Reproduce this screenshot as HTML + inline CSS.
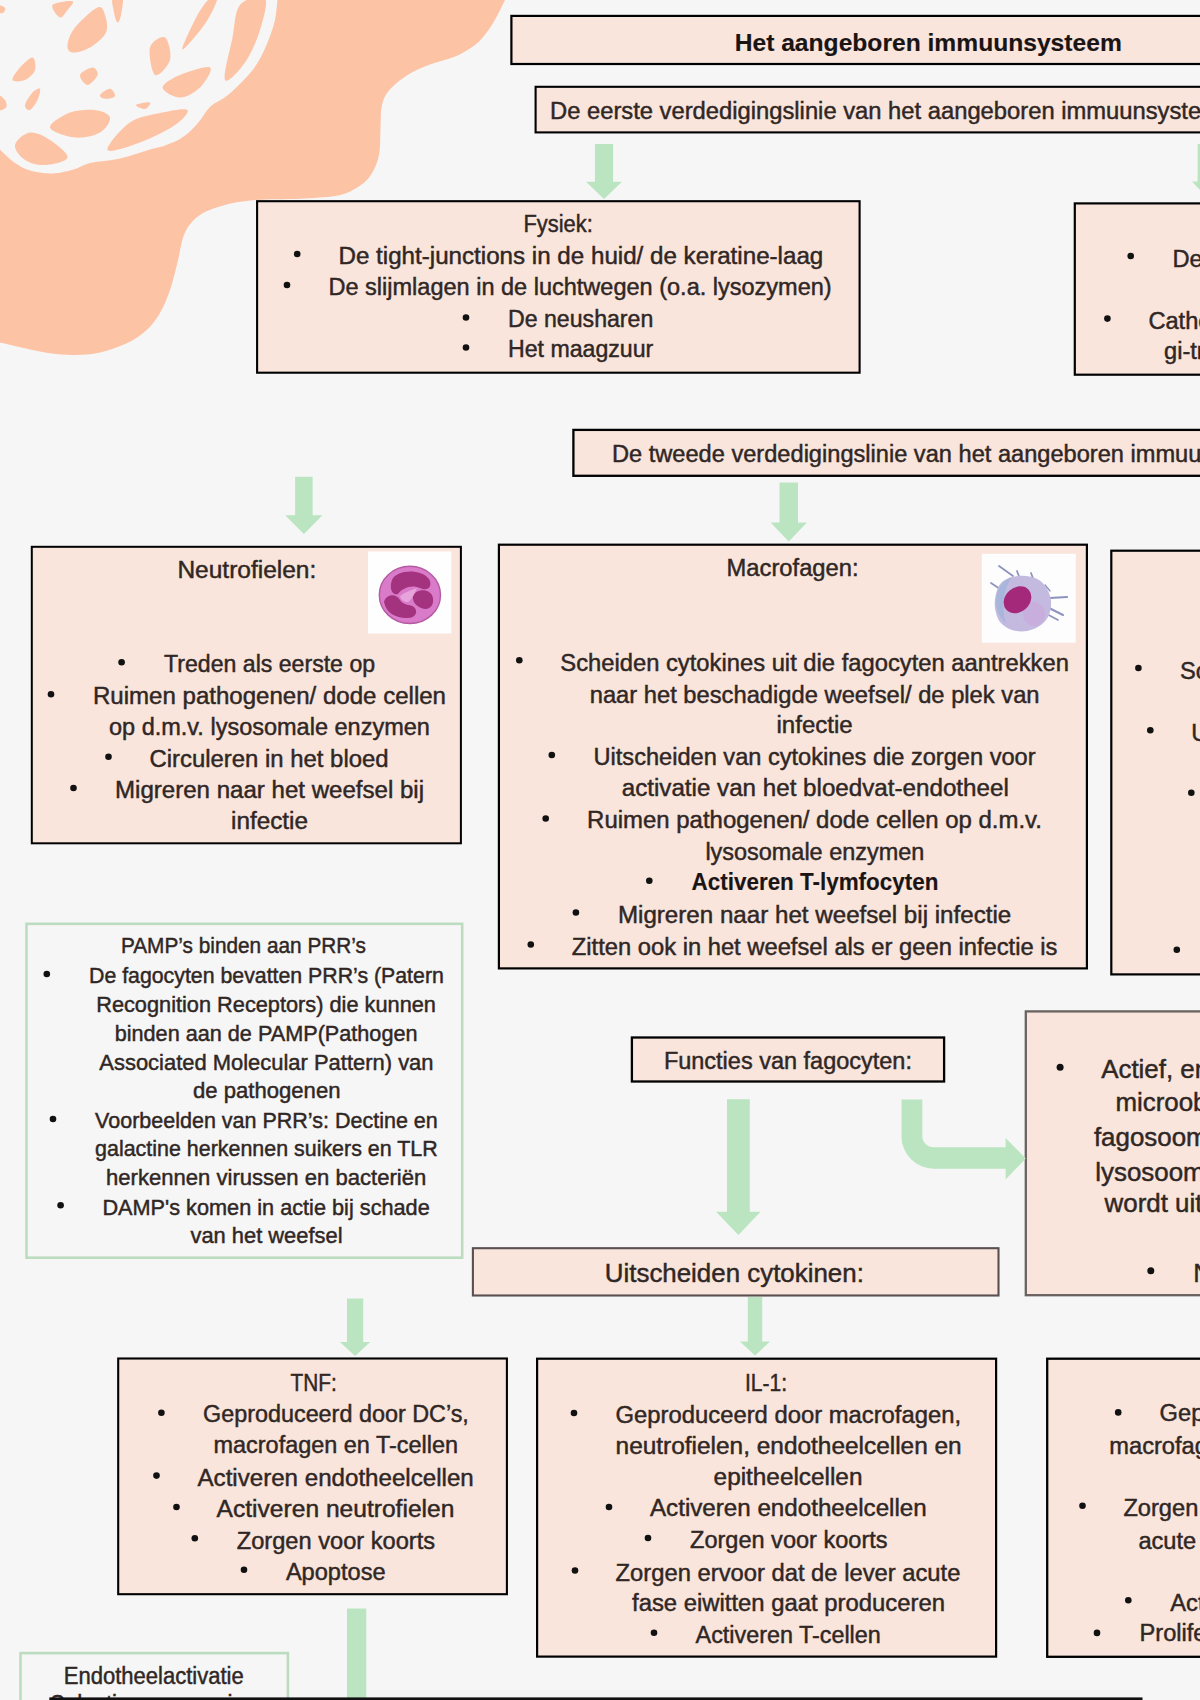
<!DOCTYPE html>
<html><head><meta charset="utf-8"><title>Het aangeboren immuunsysteem</title>
<style>
html,body{margin:0;padding:0;background:#f6f6f6;}
body{width:1200px;height:1700px;overflow:hidden;}
svg{display:block;font-family:"Liberation Sans",sans-serif;}
</style></head><body>
<svg width="1200" height="1700" viewBox="0 0 1200 1700">
<rect x="0" y="0" width="1200" height="1700" fill="#f6f6f6"/>
<path d="M-5,-5 L505,-5 L505,0 C503.8,2.5 500.2,10.0 497.5,15.0 C494.8,20.0 492.2,25.0 488.5,30.0 C484.8,35.0 480.8,40.5 475.0,45.0 C469.2,49.5 461.5,53.8 454.0,57.0 C446.5,60.2 437.8,61.5 430.0,64.5 C422.2,67.5 414.2,70.8 407.5,75.0 C400.8,79.2 393.8,85.0 389.5,90.0 C385.2,95.0 383.5,98.8 382.0,105.0 C380.5,111.2 380.9,120.0 380.5,127.5 C380.1,135.0 380.4,143.8 379.7,150.0 C378.9,156.2 378.1,160.0 376.0,165.0 C373.9,170.0 371.0,175.8 367.0,180.0 C363.0,184.2 357.3,187.8 352.0,190.5 C346.7,193.2 343.7,194.6 335.0,196.0 C326.3,197.4 313.3,198.0 300.0,198.7 C286.7,199.4 267.5,198.9 255.0,200.0 C242.5,201.1 234.2,202.5 225.0,205.0 C215.8,207.5 206.7,210.4 200.0,215.0 C193.3,219.6 188.8,224.6 185.0,232.5 C181.2,240.4 180.0,252.9 177.5,262.5 C175.0,272.1 172.9,281.6 170.0,290.0 C167.1,298.4 163.9,306.3 160.0,313.0 C156.1,319.7 152.2,324.9 146.7,330.0 C141.1,335.1 134.5,339.6 126.7,343.3 C118.9,347.1 108.6,350.6 100.0,352.5 C91.4,354.4 83.3,354.9 75.0,355.0 C66.7,355.1 58.3,354.4 50.0,353.3 C41.7,352.2 33.3,350.1 25.0,348.3 C16.7,346.5 4.2,343.5 0.0,342.5  L-5,342.5 Z" fill="#fdc3a5"/>
<path d="M-5,-5 L277.5,-5 L277.5,0 C277.1,3.3 276.5,13.3 275.0,20.0 C273.5,26.7 271.1,33.4 268.5,40.0 C265.9,46.6 263.0,53.5 259.5,59.5 C256.0,65.5 252.8,70.1 247.5,76.0 C242.2,81.9 234.2,89.8 228.0,95.0 C221.8,100.2 215.0,102.3 210.0,107.0 C205.0,111.7 202.5,118.0 198.0,123.0 C193.5,128.0 188.5,133.2 183.0,137.0 C177.5,140.8 170.5,143.4 165.0,145.5 C159.5,147.6 157.5,147.3 150.0,149.5 C142.5,151.7 130.0,156.2 120.0,158.5 C110.0,160.8 97.5,161.2 90.0,163.0 C82.5,164.8 81.2,167.2 75.0,169.0 C68.8,170.8 60.0,173.2 52.5,173.5 C45.0,173.8 36.2,172.2 30.0,170.5 C23.8,168.8 19.2,165.8 15.0,163.0 C10.8,160.2 7.0,156.2 4.5,154.0 C2.0,151.8 0.8,150.2 0.0,149.5  L-5,149.5 Z" fill="#f6f6f6"/>
<path d="M52.5,5.0 C54.6,2.3 70.0,0.4 72.5,1.2 C75.0,2.1 69.6,7.3 67.5,10.0 C65.4,12.7 62.5,18.3 60.0,17.5 C57.5,16.7 50.4,7.7 52.5,5.0 Z" fill="#fdc3a5"/>
<path d="M67.5,45.0 C67.9,40.8 70.0,33.8 75.0,27.5 C80.0,21.2 92.5,9.6 97.5,7.5 C102.5,5.4 103.6,10.8 105.0,15.0 C106.4,19.2 108.5,27.1 106.0,32.5 C103.5,37.9 95.6,44.2 90.0,47.5 C84.4,50.8 76.2,52.9 72.5,52.5 C68.8,52.1 67.1,49.2 67.5,45.0 Z" fill="#fdc3a5"/>
<path d="M112.5,-2.0 C113.9,-4.4 121.1,-4.8 122.5,-2.0 C123.9,0.8 121.8,10.9 121.0,15.0 C120.2,19.1 118.7,22.9 117.5,22.5 C116.3,22.1 114.8,16.6 114.0,12.5 C113.2,8.4 111.1,0.4 112.5,-2.0 Z" fill="#fdc3a5"/>
<path d="M150.0,47.5 C151.7,41.2 161.7,35.4 165.0,37.5 C168.3,39.6 171.7,53.8 170.0,60.0 C168.3,66.2 158.3,77.1 155.0,75.0 C151.7,72.9 148.3,53.8 150.0,47.5 Z" fill="#fdc3a5"/>
<path d="M182.5,47.5 C183.8,42.9 192.9,23.2 197.5,15.0 C202.1,6.8 206.7,0.8 210.0,-2.0 C213.3,-4.8 217.9,-5.7 217.5,-2.0 C217.1,1.7 212.1,12.6 207.5,20.0 C202.9,27.4 194.2,37.9 190.0,42.5 C185.8,47.1 181.2,52.1 182.5,47.5 Z" fill="#fdc3a5"/>
<path d="M225.0,80.0 C222.9,75.8 230.0,50.0 232.5,37.5 C235.0,25.0 234.6,11.6 240.0,5.0 C245.4,-1.6 261.7,-6.2 265.0,-2.0 C268.3,2.2 263.3,19.2 260.0,30.0 C256.7,40.8 250.8,54.2 245.0,62.5 C239.2,70.8 227.1,84.2 225.0,80.0 Z" fill="#fdc3a5"/>
<path d="M162.5,87.5 C162.5,83.8 172.1,78.3 180.0,75.0 C187.9,71.7 206.7,65.4 210.0,67.5 C213.3,69.6 205.0,82.5 200.0,87.5 C195.0,92.5 186.2,97.5 180.0,97.5 C173.8,97.5 162.5,91.2 162.5,87.5 Z" fill="#fdc3a5"/>
<path d="M12.5,80.0 C11.7,77.9 16.7,71.2 20.0,67.5 C23.3,63.8 30.0,57.1 32.5,57.5 C35.0,57.9 36.2,66.2 35.0,70.0 C33.8,73.8 28.8,78.3 25.0,80.0 C21.2,81.7 13.3,82.1 12.5,80.0 Z" fill="#fdc3a5"/>
<path d="M80.0,75.0 C80.8,72.1 89.6,67.5 92.5,67.5 C95.4,67.5 98.3,72.1 97.5,75.0 C96.7,77.9 90.4,85.0 87.5,85.0 C84.6,85.0 79.2,77.9 80.0,75.0 Z" fill="#fdc3a5"/>
<path d="M25.0,105.0 C25.4,102.1 30.0,95.2 32.5,92.5 C35.0,89.8 39.2,87.5 40.0,88.8 C40.8,90.0 39.2,96.5 37.5,100.0 C35.8,103.5 32.1,109.2 30.0,110.0 C27.9,110.8 24.6,107.9 25.0,105.0 Z" fill="#fdc3a5"/>
<path d="M100.0,95.0 C100.8,93.3 107.5,88.5 110.0,88.8 C112.5,89.0 115.8,94.6 115.0,96.2 C114.2,97.9 107.5,99.0 105.0,98.8 C102.5,98.5 99.2,96.7 100.0,95.0 Z" fill="#fdc3a5"/>
<path d="M50.0,127.5 C49.2,123.3 62.5,115.4 70.0,112.5 C77.5,109.6 88.3,109.2 95.0,110.0 C101.7,110.8 109.2,113.8 110.0,117.5 C110.8,121.2 105.8,129.2 100.0,132.5 C94.2,135.8 83.3,138.3 75.0,137.5 C66.7,136.7 50.8,131.7 50.0,127.5 Z" fill="#fdc3a5"/>
<path d="M107.5,150.0 C105.8,146.7 120.8,128.8 130.0,122.5 C139.2,116.2 152.9,114.6 162.5,112.5 C172.1,110.4 185.4,107.9 187.5,110.0 C189.6,112.1 182.9,119.6 175.0,125.0 C167.1,130.4 151.2,138.3 140.0,142.5 C128.8,146.7 109.2,153.3 107.5,150.0 Z" fill="#fdc3a5"/>
<path d="M15.0,145.0 C15.8,140.4 24.2,133.3 30.0,132.5 C35.8,131.7 43.8,135.8 50.0,140.0 C56.2,144.2 68.3,153.3 67.5,157.5 C66.7,161.7 52.1,164.6 45.0,165.0 C37.9,165.4 30.0,163.3 25.0,160.0 C20.0,156.7 14.2,149.6 15.0,145.0 Z" fill="#fdc3a5"/>
<path d="M-3.0,95.0 C-1.7,93.3 3.5,97.9 5.0,100.0 C6.5,102.1 7.3,105.8 6.0,107.5 C4.7,109.2 -1.5,112.1 -3.0,110.0 C-4.5,107.9 -4.3,96.7 -3.0,95.0 Z" fill="#fdc3a5"/>
<path d="M136.0,105.0 C136.8,103.9 148.5,101.8 150.0,102.5 C151.5,103.2 147.3,108.6 145.0,109.0 C142.7,109.4 135.2,106.1 136.0,105.0 Z" fill="#fdc3a5"/>
<path d="M-3.0,5.0 C-1.7,4.3 4.0,6.7 5.0,8.0 C6.0,9.3 4.3,12.3 3.0,13.0 C1.7,13.7 -2.0,13.3 -3.0,12.0 C-4.0,10.7 -4.3,5.7 -3.0,5.0 Z" fill="#fdc3a5"/>
<rect x="511.4" y="15.9" width="699.5" height="48.1" fill="#f9e5dc" stroke="#000" stroke-width="2.2"/>
<rect x="535.6" y="86.8" width="675.3" height="45.6" fill="#f9e5dc" stroke="#000" stroke-width="2.1"/>
<rect x="257.1" y="201.2" width="602.5" height="171.5" fill="#f9e5dc" stroke="#000" stroke-width="2.1"/>
<rect x="1074.8" y="203.4" width="136.1" height="171.3" fill="#f9e5dc" stroke="#000" stroke-width="2.2"/>
<rect x="573.4" y="429.9" width="637.4" height="45.9" fill="#f9e5dc" stroke="#000" stroke-width="2.3"/>
<rect x="31.8" y="546.8" width="429.1" height="296.5" fill="#f9e5dc" stroke="#000" stroke-width="2.0"/>
<rect x="498.9" y="544.7" width="588.0" height="423.7" fill="#f9e5dc" stroke="#000" stroke-width="2.2"/>
<rect x="1111.3" y="550.7" width="99.6" height="423.7" fill="#f9e5dc" stroke="#000" stroke-width="2.2"/>
<rect x="26.5" y="923.8" width="435.7" height="333.9" fill="#f6f6f6" stroke="#bcdcc0" stroke-width="2.6"/>
<rect x="631.9" y="1037.5" width="312.2" height="44.0" fill="#f9e5dc" stroke="#000" stroke-width="2.3"/>
<rect x="1025.8" y="1011.4" width="185.1" height="283.8" fill="#f9e5dc" stroke="#6a6260" stroke-width="2.3"/>
<rect x="472.9" y="1248.2" width="525.6" height="47.3" fill="#f9e5dc" stroke="#5a5050" stroke-width="2.1"/>
<rect x="118.2" y="1358.5" width="388.7" height="235.7" fill="#f9e5dc" stroke="#000" stroke-width="2.1"/>
<rect x="537.1" y="1358.7" width="459.0" height="297.9" fill="#f9e5dc" stroke="#000" stroke-width="2.2"/>
<rect x="1047.2" y="1358.7" width="163.7" height="298.1" fill="#f9e5dc" stroke="#000" stroke-width="2.3"/>
<rect x="20.5" y="1653.1" width="267.4" height="65.6" fill="#f6f6f6" stroke="#bcdcc0" stroke-width="2.6"/>
<path d="M594.9,143.9 L613.1,143.9 L613.1,181.8 L621.9,181.8 L604.0,199.0 L586.1,181.8 L594.9,181.8 Z" fill="#bbe5c1"/>
<path d="M1197.6,143.9 L1217.4,143.9 L1217.4,181.5 L1223.0,181.5 L1207.5,198.0 L1192.0,181.5 L1197.6,181.5 Z" fill="#bbe5c1"/>
<path d="M295.1,476.7 L312.6,476.7 L312.6,515.2 L322.5,515.2 L303.9,534.0 L285.2,515.2 L295.1,515.2 Z" fill="#bbe5c1"/>
<path d="M779.5,482.5 L798.0,482.5 L798.0,522.5 L806.9,522.5 L788.8,541.5 L770.6,522.5 L779.5,522.5 Z" fill="#bbe5c1"/>
<path d="M727.0,1099.2 L749.8,1099.2 L749.8,1211.8 L760.6,1211.8 L738.4,1235.0 L716.1,1211.8 L727.0,1211.8 Z" fill="#bbe5c1"/>
<path d="M347.0,1298.4 L363.2,1298.4 L363.2,1341.9 L370.2,1341.9 L355.1,1356.0 L340.0,1341.9 L347.0,1341.9 Z" fill="#bbe5c1"/>
<path d="M747.8,1297.0 L762.2,1297.0 L762.2,1341.5 L770.1,1341.5 L755.0,1355.5 L739.9,1341.5 L747.8,1341.5 Z" fill="#bbe5c1"/>
<rect x="347" y="1608.5" width="19.3" height="95" fill="#bbe5c1"/>
<path d="M901.5,1099.4 L922.3,1099.4 L922.3,1136 A11.3,11.3 0 0 0 933.6,1147.3 L1005.6,1147.3 L1005.6,1138.1 L1025.8,1158.5 L1005.6,1179.4 L1005.6,1168.8 L934,1168.8 A32.5,32.5 0 0 1 901.5,1136.3 Z" fill="#bbe5c1"/>
<rect x="368" y="551.4" width="83.3" height="82.1" fill="#fefefe"/>
<ellipse cx="409.9" cy="594.9" rx="30.6" ry="28.6" fill="#d97bc8" stroke="#b45aa3" stroke-width="1.4"/>
<path d="M392,580 C396,570 420,568 429,579 C433,586 428,592 420,588 C412,584 402,588 398,594 C392,596 389,588 392,580 Z" fill="#a3327f"/>
<path d="M384,602 C386,594 396,593 400,600 C404,606 410,604 414,607 C419,612 415,619 406,618 C396,618 386,613 384,602 Z" fill="#a3327f"/>
<path d="M413,596 C416,589 428,588 432,595 C435,602 432,609 425,609 C418,608 412,603 413,596 Z" fill="#a3327f"/>
<path d="M400,596 C405,592 412,590 417,588 C414,594 412,600 408,602 C404,602 401,600 400,596 Z" fill="#e7a4dc"/>
<rect x="981.8" y="553.8" width="94" height="88.9" fill="#fdfdfe"/>
<line x1="999" y1="566" x2="1013" y2="576" stroke="#8d93bd" stroke-width="1.8" stroke-linecap="round"/>
<line x1="991" y1="583" x2="1000" y2="589" stroke="#8d93bd" stroke-width="1.8" stroke-linecap="round"/>
<line x1="1050" y1="598" x2="1067" y2="597" stroke="#8d93bd" stroke-width="2.2" stroke-linecap="round"/>
<line x1="1049" y1="608" x2="1063" y2="615" stroke="#8d93bd" stroke-width="2.0" stroke-linecap="round"/>
<line x1="1017" y1="571" x2="1020" y2="579" stroke="#8d93bd" stroke-width="1.8" stroke-linecap="round"/>
<line x1="1031" y1="573" x2="1034" y2="581" stroke="#8d93bd" stroke-width="1.8" stroke-linecap="round"/>
<line x1="1045" y1="585" x2="1050" y2="591" stroke="#8d93bd" stroke-width="1.4" stroke-linecap="round"/>
<line x1="1043" y1="612" x2="1058" y2="620" stroke="#8d93bd" stroke-width="1.6" stroke-linecap="round"/>
<path d="M996.0,594.0 C997.0,589.8 998.3,585.8 1001.0,583.0 C1003.7,580.2 1007.8,578.2 1012.0,577.0 C1016.2,575.8 1021.5,575.5 1026.0,576.0 C1030.5,576.5 1035.5,577.8 1039.0,580.0 C1042.5,582.2 1045.0,585.5 1047.0,589.0 C1049.0,592.5 1050.7,596.7 1051.0,601.0 C1051.3,605.3 1050.7,611.0 1049.0,615.0 C1047.3,619.0 1044.7,622.3 1041.0,625.0 C1037.3,627.7 1031.8,630.2 1027.0,631.0 C1022.2,631.8 1016.5,631.5 1012.0,630.0 C1007.5,628.5 1002.8,625.7 1000.0,622.0 C997.2,618.3 995.7,612.7 995.0,608.0 C994.3,603.3 995.0,598.2 996.0,594.0 Z" fill="#c4bae0"/>
<path d="M996,598 C998,586 1004,580 1012,577 C1003,590 1001,606 1006,624 C999,617 995,608 996,598 Z" fill="#a9b6dc"/>
<ellipse cx="1034" cy="614" rx="11" ry="12" fill="#c9a9db" opacity="0.75"/>
<ellipse cx="1017.5" cy="599.8" rx="15" ry="12.2" transform="rotate(-42 1017.5 599.8)" fill="#a5297a"/>
<text x="734.70" y="50.80" font-size="24.5" font-weight="bold" fill="#1a1414" textLength="387.09" lengthAdjust="spacingAndGlyphs" stroke="#1a1414" stroke-width="0.15">Het aangeboren immuunsysteem</text>
<text x="550.00" y="119.30" font-size="23" fill="#302725" textLength="684.17" lengthAdjust="spacingAndGlyphs" stroke="#302725" stroke-width="0.45">De eerste verdedigingslinie van het aangeboren immuunsysteem</text>
<text x="523.50" y="231.50" font-size="23" fill="#302725" textLength="69.24" lengthAdjust="spacingAndGlyphs" stroke="#302725" stroke-width="0.45">Fysiek:</text>
<text x="338.50" y="264.30" font-size="23" fill="#302725" textLength="484.78" lengthAdjust="spacingAndGlyphs" stroke="#302725" stroke-width="0.45">De tight-junctions in de huid/ de keratine-laag</text>
<circle cx="297.2" cy="254.0" r="3.3" fill="#111"/>
<text x="328.50" y="294.70" font-size="23" fill="#302725" textLength="503.19" lengthAdjust="spacingAndGlyphs" stroke="#302725" stroke-width="0.45">De slijmlagen in de luchtwegen (o.a. lysozymen)</text>
<circle cx="287.0" cy="285.0" r="3.3" fill="#111"/>
<text x="508.00" y="327.00" font-size="23" fill="#302725" textLength="145.30" lengthAdjust="spacingAndGlyphs" stroke="#302725" stroke-width="0.45">De neusharen</text>
<circle cx="466.0" cy="317.5" r="3.3" fill="#111"/>
<text x="508.00" y="357.00" font-size="23" fill="#302725" textLength="145.26" lengthAdjust="spacingAndGlyphs" stroke="#302725" stroke-width="0.45">Het maagzuur</text>
<circle cx="466.0" cy="347.5" r="3.3" fill="#111"/>
<text x="1172.40" y="266.60" font-size="23" fill="#302725" textLength="320.72" lengthAdjust="spacingAndGlyphs" stroke="#302725" stroke-width="0.45">Defensines in de huid en darm</text>
<circle cx="1130.7" cy="256.0" r="3.3" fill="#111"/>
<text x="1148.40" y="328.80" font-size="23" fill="#302725" textLength="322.06" lengthAdjust="spacingAndGlyphs" stroke="#302725" stroke-width="0.45">Cathelicidines in de huid en de</text>
<circle cx="1107.4" cy="318.6" r="3.3" fill="#111"/>
<text x="1164.00" y="359.30" font-size="23" fill="#302725" textLength="97.23" lengthAdjust="spacingAndGlyphs" stroke="#302725" stroke-width="0.45">gi-tractus</text>
<text x="612.00" y="462.00" font-size="23" fill="#302725" textLength="690.36" lengthAdjust="spacingAndGlyphs" stroke="#302725" stroke-width="0.45">De tweede verdedigingslinie van het aangeboren immuunsysteem</text>
<text x="177.40" y="577.80" font-size="23" fill="#302725" textLength="138.91" lengthAdjust="spacingAndGlyphs" stroke="#302725" stroke-width="0.45">Neutrofielen:</text>
<text x="164.00" y="672.40" font-size="23" fill="#302725" textLength="211.11" lengthAdjust="spacingAndGlyphs" stroke="#302725" stroke-width="0.45">Treden als eerste op</text>
<circle cx="121.6" cy="662.2" r="3.3" fill="#111"/>
<text x="93.00" y="704.40" font-size="23" fill="#302725" textLength="353.00" lengthAdjust="spacingAndGlyphs" stroke="#302725" stroke-width="0.45">Ruimen pathogenen/ dode cellen</text>
<circle cx="51.0" cy="694.2" r="3.3" fill="#111"/>
<text x="109.00" y="735.00" font-size="23" fill="#302725" textLength="320.85" lengthAdjust="spacingAndGlyphs" stroke="#302725" stroke-width="0.45">op d.m.v. lysosomale enzymen</text>
<text x="149.40" y="767.00" font-size="23" fill="#302725" textLength="239.24" lengthAdjust="spacingAndGlyphs" stroke="#302725" stroke-width="0.45">Circuleren in het bloed</text>
<circle cx="108.5" cy="756.7" r="3.3" fill="#111"/>
<text x="115.00" y="797.50" font-size="23" fill="#302725" textLength="309.03" lengthAdjust="spacingAndGlyphs" stroke="#302725" stroke-width="0.45">Migreren naar het weefsel bij</text>
<circle cx="73.5" cy="788.0" r="3.3" fill="#111"/>
<text x="231.00" y="829.00" font-size="23" fill="#302725" textLength="76.98" lengthAdjust="spacingAndGlyphs" stroke="#302725" stroke-width="0.45">infectie</text>
<text x="726.60" y="575.80" font-size="23" fill="#302725" textLength="131.95" lengthAdjust="spacingAndGlyphs" stroke="#302725" stroke-width="0.45">Macrofagen:</text>
<text x="560.30" y="670.50" font-size="23" fill="#302725" textLength="508.57" lengthAdjust="spacingAndGlyphs" stroke="#302725" stroke-width="0.45">Scheiden cytokines uit die fagocyten aantrekken</text>
<circle cx="519.3" cy="660.2" r="3.3" fill="#111"/>
<text x="589.70" y="702.50" font-size="23" fill="#302725" textLength="449.84" lengthAdjust="spacingAndGlyphs" stroke="#302725" stroke-width="0.45">naar het beschadigde weefsel/ de plek van</text>
<text x="776.50" y="733.20" font-size="23" fill="#302725" textLength="76.18" lengthAdjust="spacingAndGlyphs" stroke="#302725" stroke-width="0.45">infectie</text>
<text x="593.50" y="765.20" font-size="23" fill="#302725" textLength="442.06" lengthAdjust="spacingAndGlyphs" stroke="#302725" stroke-width="0.45">Uitscheiden van cytokines die zorgen voor</text>
<circle cx="551.8" cy="755.0" r="3.3" fill="#111"/>
<text x="621.70" y="796.00" font-size="23" fill="#302725" textLength="387.07" lengthAdjust="spacingAndGlyphs" stroke="#302725" stroke-width="0.45">activatie van het bloedvat-endotheel</text>
<text x="587.10" y="828.00" font-size="23" fill="#302725" textLength="454.88" lengthAdjust="spacingAndGlyphs" stroke="#302725" stroke-width="0.45">Ruimen pathogenen/ dode cellen op d.m.v.</text>
<circle cx="545.7" cy="818.5" r="3.3" fill="#111"/>
<text x="705.40" y="860.00" font-size="23" fill="#302725" textLength="218.86" lengthAdjust="spacingAndGlyphs" stroke="#302725" stroke-width="0.45">lysosomale enzymen</text>
<text x="691.60" y="890.10" font-size="23" font-weight="bold" fill="#1a1414" textLength="246.79" lengthAdjust="spacingAndGlyphs" stroke="#1a1414" stroke-width="0.15">Activeren T-lymfocyten</text>
<circle cx="649.3" cy="880.7" r="3.3" fill="#111"/>
<text x="617.90" y="922.60" font-size="23" fill="#302725" textLength="393.39" lengthAdjust="spacingAndGlyphs" stroke="#302725" stroke-width="0.45">Migreren naar het weefsel bij infectie</text>
<circle cx="575.9" cy="912.5" r="3.3" fill="#111"/>
<text x="571.80" y="954.60" font-size="23" fill="#302725" textLength="485.60" lengthAdjust="spacingAndGlyphs" stroke="#302725" stroke-width="0.45">Zitten ook in het weefsel als er geen infectie is</text>
<circle cx="530.8" cy="944.5" r="3.3" fill="#111"/>
<text x="1180.00" y="679.00" font-size="23" fill="#302725" textLength="235.27" lengthAdjust="spacingAndGlyphs" stroke="#302725" stroke-width="0.45">Scheiden cytokines uit</text>
<circle cx="1138.4" cy="668.0" r="3.3" fill="#111"/>
<text x="1191.30" y="741.00" font-size="23" fill="#302725" textLength="168.24" lengthAdjust="spacingAndGlyphs" stroke="#302725" stroke-width="0.45">Uitscheiden van</text>
<circle cx="1150.3" cy="730.2" r="3.3" fill="#111"/>
<circle cx="1191.3" cy="792.8" r="3.3" fill="#111"/>
<circle cx="1176.8" cy="949.7" r="3.3" fill="#111"/>
<text x="120.90" y="953.00" font-size="21.5" fill="#302725" textLength="245.07" lengthAdjust="spacingAndGlyphs" stroke="#302725" stroke-width="0.45">PAMP’s binden aan PRR’s</text>
<text x="89.00" y="983.40" font-size="21.5" fill="#302725" textLength="354.84" lengthAdjust="spacingAndGlyphs" stroke="#302725" stroke-width="0.45">De fagocyten bevatten PRR’s (Patern</text>
<circle cx="46.8" cy="974.0" r="3.3" fill="#111"/>
<text x="96.20" y="1011.80" font-size="21.5" fill="#302725" textLength="339.75" lengthAdjust="spacingAndGlyphs" stroke="#302725" stroke-width="0.45">Recognition Receptors) die kunnen</text>
<text x="114.70" y="1041.00" font-size="21.5" fill="#302725" textLength="302.83" lengthAdjust="spacingAndGlyphs" stroke="#302725" stroke-width="0.45">binden aan de PAMP(Pathogen</text>
<text x="99.30" y="1069.80" font-size="21.5" fill="#302725" textLength="334.24" lengthAdjust="spacingAndGlyphs" stroke="#302725" stroke-width="0.45">Associated Molecular Pattern) van</text>
<text x="193.00" y="1098.20" font-size="21.5" fill="#302725" textLength="147.48" lengthAdjust="spacingAndGlyphs" stroke="#302725" stroke-width="0.45">de pathogenen</text>
<text x="95.10" y="1128.10" font-size="21.5" fill="#302725" textLength="342.63" lengthAdjust="spacingAndGlyphs" stroke="#302725" stroke-width="0.45">Voorbeelden van PRR’s: Dectine en</text>
<circle cx="53.0" cy="1119.0" r="3.3" fill="#111"/>
<text x="95.10" y="1155.50" font-size="21.5" fill="#302725" textLength="342.62" lengthAdjust="spacingAndGlyphs" stroke="#302725" stroke-width="0.45">galactine herkennen suikers en TLR</text>
<text x="106.00" y="1184.70" font-size="21.5" fill="#302725" textLength="320.26" lengthAdjust="spacingAndGlyphs" stroke="#302725" stroke-width="0.45">herkennen virussen en bacteriën</text>
<text x="102.40" y="1214.60" font-size="21.5" fill="#302725" textLength="327.36" lengthAdjust="spacingAndGlyphs" stroke="#302725" stroke-width="0.45">DAMP's komen in actie bij schade</text>
<circle cx="60.6" cy="1205.3" r="3.3" fill="#111"/>
<text x="190.50" y="1242.60" font-size="21.5" fill="#302725" textLength="152.00" lengthAdjust="spacingAndGlyphs" stroke="#302725" stroke-width="0.45">van het weefsel</text>
<text x="663.90" y="1068.90" font-size="23" fill="#302725" textLength="248.03" lengthAdjust="spacingAndGlyphs" stroke="#302725" stroke-width="0.45">Functies van fagocyten:</text>
<text x="1101.20" y="1078.40" font-size="25" fill="#302725" textLength="296.56" lengthAdjust="spacingAndGlyphs" stroke="#302725" stroke-width="0.45">Actief, energie-afhankelijk</text>
<circle cx="1060.1" cy="1067.3" r="3.5" fill="#111"/>
<text x="1115.40" y="1111.20" font-size="25" fill="#302725" textLength="290.82" lengthAdjust="spacingAndGlyphs" stroke="#302725" stroke-width="0.45">microoben worden in een</text>
<text x="1093.90" y="1145.90" font-size="25" fill="#302725" textLength="308.13" lengthAdjust="spacingAndGlyphs" stroke="#302725" stroke-width="0.45">fagosoom opgenomen, het</text>
<text x="1095.30" y="1180.50" font-size="25" fill="#302725" textLength="274.96" lengthAdjust="spacingAndGlyphs" stroke="#302725" stroke-width="0.45">lysosoom fuseert en het</text>
<text x="1104.60" y="1212.40" font-size="25" fill="#302725" textLength="230.36" lengthAdjust="spacingAndGlyphs" stroke="#302725" stroke-width="0.45">wordt uitgescheiden</text>
<text x="1193.30" y="1281.70" font-size="25" fill="#302725" textLength="188.56" lengthAdjust="spacingAndGlyphs" stroke="#302725" stroke-width="0.45">NADPH-oxidase</text>
<circle cx="1150.8" cy="1270.8" r="3.5" fill="#111"/>
<text x="604.80" y="1282.40" font-size="25" fill="#302725" textLength="259.03" lengthAdjust="spacingAndGlyphs" stroke="#302725" stroke-width="0.45">Uitscheiden cytokinen:</text>
<text x="290.50" y="1390.60" font-size="23" fill="#302725" textLength="46.20" lengthAdjust="spacingAndGlyphs" stroke="#302725" stroke-width="0.45">TNF:</text>
<text x="203.00" y="1422.20" font-size="23" fill="#302725" textLength="265.87" lengthAdjust="spacingAndGlyphs" stroke="#302725" stroke-width="0.45">Geproduceerd door DC’s,</text>
<circle cx="161.4" cy="1412.8" r="3.3" fill="#111"/>
<text x="213.50" y="1453.10" font-size="23" fill="#302725" textLength="244.55" lengthAdjust="spacingAndGlyphs" stroke="#302725" stroke-width="0.45">macrofagen en T-cellen</text>
<text x="197.50" y="1486.00" font-size="23" fill="#302725" textLength="276.21" lengthAdjust="spacingAndGlyphs" stroke="#302725" stroke-width="0.45">Activeren endotheelcellen</text>
<circle cx="156.5" cy="1475.6" r="3.3" fill="#111"/>
<text x="216.60" y="1516.50" font-size="23" fill="#302725" textLength="237.77" lengthAdjust="spacingAndGlyphs" stroke="#302725" stroke-width="0.45">Activeren neutrofielen</text>
<circle cx="176.5" cy="1507.0" r="3.3" fill="#111"/>
<text x="236.70" y="1548.50" font-size="23" fill="#302725" textLength="198.44" lengthAdjust="spacingAndGlyphs" stroke="#302725" stroke-width="0.45">Zorgen voor koorts</text>
<circle cx="194.8" cy="1538.2" r="3.3" fill="#111"/>
<text x="285.90" y="1579.50" font-size="23" fill="#302725" textLength="99.69" lengthAdjust="spacingAndGlyphs" stroke="#302725" stroke-width="0.45">Apoptose</text>
<circle cx="244.0" cy="1569.8" r="3.3" fill="#111"/>
<text x="745.00" y="1391.00" font-size="23" fill="#302725" textLength="42.12" lengthAdjust="spacingAndGlyphs" stroke="#302725" stroke-width="0.45">IL-1:</text>
<text x="615.60" y="1423.00" font-size="23" fill="#302725" textLength="345.42" lengthAdjust="spacingAndGlyphs" stroke="#302725" stroke-width="0.45">Geproduceerd door macrofagen,</text>
<circle cx="574.0" cy="1413.0" r="3.3" fill="#111"/>
<text x="615.60" y="1453.60" font-size="23" fill="#302725" textLength="346.10" lengthAdjust="spacingAndGlyphs" stroke="#302725" stroke-width="0.45">neutrofielen, endotheelcellen en</text>
<text x="713.60" y="1485.00" font-size="23" fill="#302725" textLength="148.86" lengthAdjust="spacingAndGlyphs" stroke="#302725" stroke-width="0.45">epitheelcellen</text>
<text x="650.00" y="1516.00" font-size="23" fill="#302725" textLength="276.71" lengthAdjust="spacingAndGlyphs" stroke="#302725" stroke-width="0.45">Activeren endotheelcellen</text>
<circle cx="609.0" cy="1507.0" r="3.3" fill="#111"/>
<text x="690.00" y="1548.00" font-size="23" fill="#302725" textLength="197.54" lengthAdjust="spacingAndGlyphs" stroke="#302725" stroke-width="0.45">Zorgen voor koorts</text>
<circle cx="648.0" cy="1538.0" r="3.3" fill="#111"/>
<text x="615.60" y="1581.00" font-size="23" fill="#302725" textLength="344.81" lengthAdjust="spacingAndGlyphs" stroke="#302725" stroke-width="0.45">Zorgen ervoor dat de lever acute</text>
<circle cx="575.0" cy="1570.5" r="3.3" fill="#111"/>
<text x="632.00" y="1611.00" font-size="23" fill="#302725" textLength="312.96" lengthAdjust="spacingAndGlyphs" stroke="#302725" stroke-width="0.45">fase eiwitten gaat produceren</text>
<text x="695.60" y="1643.00" font-size="23" fill="#302725" textLength="185.19" lengthAdjust="spacingAndGlyphs" stroke="#302725" stroke-width="0.45">Activeren T-cellen</text>
<circle cx="654.0" cy="1632.8" r="3.3" fill="#111"/>
<text x="1159.60" y="1420.70" font-size="23" fill="#302725" textLength="205.06" lengthAdjust="spacingAndGlyphs" stroke="#302725" stroke-width="0.45">Geproduceerd door</text>
<circle cx="1118.2" cy="1412.4" r="3.3" fill="#111"/>
<text x="1109.30" y="1454.20" font-size="23" fill="#302725" textLength="303.66" lengthAdjust="spacingAndGlyphs" stroke="#302725" stroke-width="0.45">macrofagen, endotheelcellen</text>
<text x="1123.40" y="1516.10" font-size="23" fill="#302725" textLength="278.64" lengthAdjust="spacingAndGlyphs" stroke="#302725" stroke-width="0.45">Zorgen ervoor dat de lever</text>
<circle cx="1082.5" cy="1505.8" r="3.3" fill="#111"/>
<text x="1138.40" y="1548.70" font-size="23" fill="#302725" textLength="195.84" lengthAdjust="spacingAndGlyphs" stroke="#302725" stroke-width="0.45">acute fase eiwitten</text>
<text x="1170.30" y="1611.30" font-size="23" fill="#302725" textLength="190.55" lengthAdjust="spacingAndGlyphs" stroke="#302725" stroke-width="0.45">Activeren B-cellen</text>
<circle cx="1128.3" cy="1600.3" r="3.3" fill="#111"/>
<text x="1139.50" y="1641.20" font-size="23" fill="#302725" textLength="246.64" lengthAdjust="spacingAndGlyphs" stroke="#302725" stroke-width="0.45">Proliferatie van T-cellen</text>
<circle cx="1097.0" cy="1632.9" r="3.3" fill="#111"/>
<text x="63.70" y="1684.00" font-size="23" fill="#302725" textLength="180.02" lengthAdjust="spacingAndGlyphs" stroke="#302725" stroke-width="0.45">Endotheelactivatie</text>
<text x="50.00" y="1712.00" font-size="23" fill="#302725" textLength="195.02" lengthAdjust="spacingAndGlyphs" stroke="#302725" stroke-width="0.45">Selectine-expressie</text>
<rect x="49.3" y="1697.4" width="1093.2" height="2.8" fill="#111"/>
</svg>
</body></html>
